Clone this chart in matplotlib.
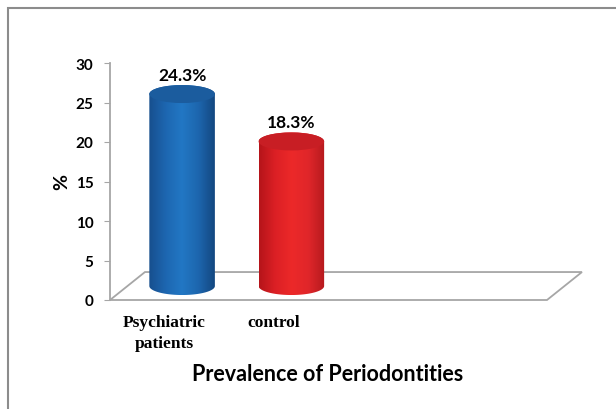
import numpy as np
import matplotlib
matplotlib.use('Agg')
import matplotlib.pyplot as plt
from matplotlib.patches import Ellipse, Polygon, Rectangle
from matplotlib.colors import LinearSegmentedColormap

categorias = ['Psychiatric\npatients', 'control']
valores = [24.3, 18.3]
rotulos = ['24.3%', '18.3%']
cores_corpo = [['#174f8e', '#1d66b0', '#2277c4', '#1d66ae', '#134780'],
               ['#b5141a', '#dc2025', '#ec2929', '#e0262a', '#b51a1e']]
cores_topo = ['#1b5c9e', '#c81e24']
titulo = 'Prevalence of Periodontities'

# profundidade do "3D" em unidades de dados
dx, dy = 0.32, 3.54
raio, raio_y = 0.30, 1.14

fig = plt.figure(figsize=(6.16, 4.10), dpi=100)
fig.patches.append(Rectangle((8 / 616, -0.01), 1.0, 1 - 9 / 410 + 0.01, transform=fig.transFigure,
                             fill=False, edgecolor='#8c8c8c', linewidth=1.5))
ax = fig.add_axes([110 / 616, 109 / 410, 437 / 616, 237 / 410])
ax.set_xlim(-0.5, 3.5)
ax.set_ylim(0, 30)

# chao
chao = Polygon([(-0.5, 0), (3.5, 0), (3.5 + dx, dy), (-0.5 + dx, dy)], closed=True,
               facecolor='white', edgecolor='#a6a6a6', linewidth=1.3, clip_on=False, zorder=1)
ax.add_patch(chao)

for i in range(len(valores)):
    cx = i + dx / 2
    y0 = dy / 2
    y1 = valores[i] + dy / 2
    t = np.linspace(np.pi, 2 * np.pi, 60)
    base = np.column_stack([cx + raio * np.cos(t), y0 + raio_y * np.sin(t)])
    t2 = np.linspace(0, np.pi, 60)
    topo = np.column_stack([cx + raio * np.cos(t2), y1 + raio_y * np.sin(t2)])
    corpo = Polygon(np.vstack([base, topo]), closed=True, facecolor='none', edgecolor='none',
                    clip_on=False, zorder=2)
    ax.add_patch(corpo)
    cmap = LinearSegmentedColormap.from_list('c%d' % i, cores_corpo[i])
    grad = np.linspace(0, 1, 256).reshape(1, -1)
    img = ax.imshow(grad, cmap=cmap, aspect='auto', extent=(cx - raio, cx + raio, y0 - raio_y, y1 + raio_y),
                    origin='lower', zorder=2, clip_on=True)
    img.set_clip_path(corpo)
    ax.add_patch(Ellipse((cx, y1), 2 * raio, 2 * raio_y, facecolor=cores_topo[i], edgecolor='none',
                         clip_on=False, zorder=3))
    ax.text(cx, y1 + raio_y + 1.3, rotulos[i], ha='center', va='center', fontsize=12.5,
            fontweight='bold', family='Lato', zorder=4)

ax.set_xlim(-0.5, 3.5)
ax.set_ylim(0, 30)
ax.set_yticks(range(0, 31, 5))
ax.set_xticks(range(len(categorias)))
ax.set_xticklabels(categorias, family='Liberation Serif', fontweight='bold', fontsize=12.5,
                   linespacing=1.4)
ax.tick_params(axis='x', length=0, pad=10)
ax.tick_params(axis='y', length=4, color='#a6a6a6', pad=8, labelsize=11)
for lb in ax.get_yticklabels():
    lb.set_fontweight('bold')
    lb.set_family('Lato')
for s in ['top', 'right', 'bottom']:
    ax.spines[s].set_visible(False)
ax.spines['left'].set_color('#a6a6a6')
ax.spines['left'].set_linewidth(1.3)
ax.set_ylabel('%', fontsize=14, fontweight='bold', family='Lato', labelpad=4)
ax.patch.set_visible(False)

fig.text(328 / 616, 1 - 375 / 410, titulo, ha='center', va='center', fontsize=15.5,
         fontweight='bold', family='Lato')

fig.savefig('out.png', dpi=100)
